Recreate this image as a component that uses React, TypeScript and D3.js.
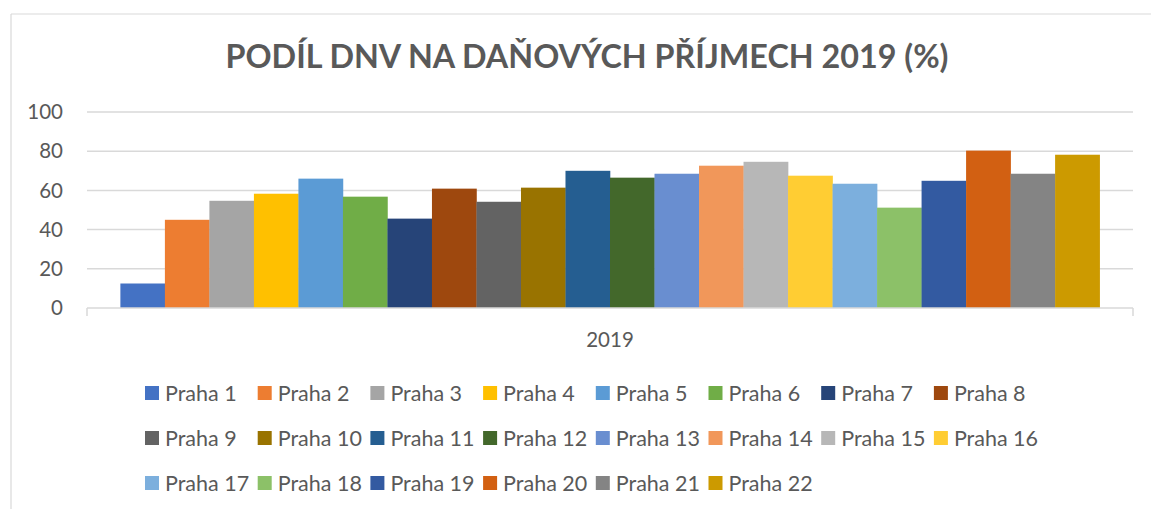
import React from "react";
import * as d3 from "d3";

const districts = [
  "Praha 1", "Praha 2", "Praha 3", "Praha 4", "Praha 5", "Praha 6", "Praha 7", "Praha 8",
  "Praha 9", "Praha 10", "Praha 11", "Praha 12", "Praha 13", "Praha 14", "Praha 15", "Praha 16",
  "Praha 17", "Praha 18", "Praha 19", "Praha 20", "Praha 21", "Praha 22",
];
const values2019 = [
  12.5, 45.0, 54.7, 58.3, 66.0, 56.8, 45.6, 60.9, 54.2, 61.4, 70.0,
  66.5, 68.5, 72.6, 74.6, 67.5, 63.4, 51.2, 64.9, 80.3, 68.5, 78.2,
];
const colors = [
  "#4472C4", "#ED7D31", "#A5A5A5", "#FFC000", "#5B9BD5", "#70AD47", "#264478", "#9E480E",
  "#636363", "#997300", "#255E91", "#43682B", "#698ED0", "#F1975A", "#B7B7B7", "#FFCD33",
  "#7CAFDD", "#8CC168", "#335AA1", "#D26012", "#848484", "#CC9A00",
];
const categories = ["2019"];
const yTicks = [0, 20, 40, 60, 80, 100];

const W = 1151;
const H = 509;
const font = "Lato, 'Noto Sans', sans-serif";
const textColor = "#595959";

export default function App() {
  const left = 87;
  const right = 1133;
  const y = d3.scaleLinear().domain([0, 100]).range([308, 112]);
  const xCat = d3.scaleBand().domain(categories).range([left, right]);
  // Excel gap width 150%
  const barW = xCat.bandwidth() / (districts.length + 1.5);
  const x = d3
    .scaleBand()
    .domain(districts)
    .range([xCat("2019")! + 0.75 * barW, xCat("2019")! + xCat.bandwidth() - 0.75 * barW])
    .padding(0);

  const legCol = d3.scaleLinear().domain([0, 1]).range([145, 257.7]);
  const legRow = d3.scaleLinear().domain([0, 1]).range([393, 438]);

  return (
    <div style={{ position: "fixed", left: 0, top: 0, width: W, height: H, overflow: "hidden" }}>
      <svg width={W} height={H} style={{ display: "block", background: "#fff" }}>
        {/* chart frame: only top and left edges fall inside the picture */}
        <line x1={11} x2={W} y1={14} y2={14} stroke="#d9d9d9" strokeWidth={1.2} />
        <line x1={11} x2={11} y1={14} y2={H} stroke="#d9d9d9" strokeWidth={1.2} />
        <text
          x={587}
          y={68}
          textAnchor="middle"
          fontFamily={font}
          fontWeight={700}
          fontSize={32.3}
          fill={textColor}
        >
          PODÍL DNV NA DAŇOVÝCH PŘÍJMECH 2019 (%)
        </text>

        {yTicks.map((t) => (
          <g key={t}>
            {t > 0 && (
              <line x1={left} x2={right} y1={y(t)} y2={y(t)} stroke="#d9d9d9" strokeWidth={1.5} />
            )}
            <text
              x={63}
              y={y(t)}
              dy="0.35em"
              textAnchor="end"
              fontFamily={font}
              fontSize={20.5}
              fill={textColor}
            >
              {t}
            </text>
          </g>
        ))}

        {districts.map((d, i) => (
          <rect
            key={d}
            x={x(d)}
            y={y(values2019[i])}
            width={x.bandwidth() + 0.3}
            height={y(0) - y(values2019[i])}
            fill={colors[i]}
          />
        ))}

        <line x1={left} x2={right} y1={y(0)} y2={y(0)} stroke="#d9d9d9" strokeWidth={1.5} />
        {[left, right].map((xx) => (
          <line key={xx} x1={xx} x2={xx} y1={y(0)} y2={y(0) + 8} stroke="#d9d9d9" strokeWidth={1.5} />
        ))}
        <text
          x={xCat("2019")! + xCat.bandwidth() / 2}
          y={340}
          dy="0.35em"
          textAnchor="middle"
          fontFamily={font}
          fontSize={20.5}
          fill={textColor}
        >
          2019
        </text>

        {districts.map((d, i) => {
          const col = i % 8;
          const row = Math.floor(i / 8);
          const lx = legCol(col);
          const ly = legRow(row);
          return (
            <g key={d}>
              <rect x={lx} y={ly - 7} width={14} height={14} fill={colors[i]} />
              <text
                x={lx + 20}
                y={ly}
                dy="0.35em"
                fontFamily={font}
                fontSize={21.5}
                fill={textColor}
              >
                {d}
              </text>
            </g>
          );
        })}
      </svg>
    </div>
  );
}
